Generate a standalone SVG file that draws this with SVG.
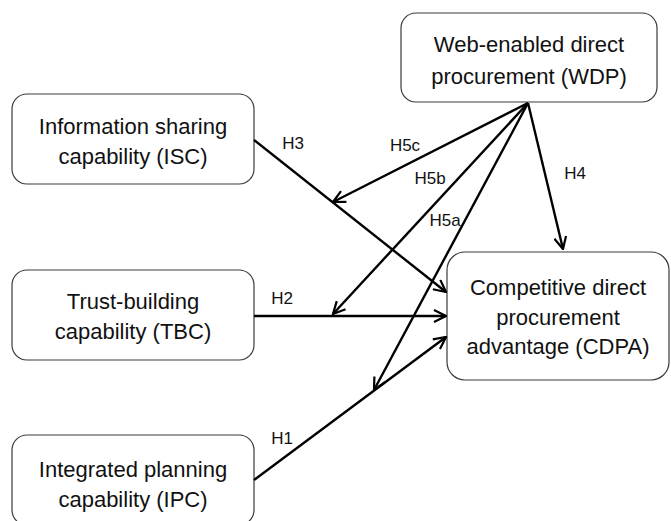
<svg xmlns="http://www.w3.org/2000/svg" width="671" height="521" viewBox="0 0 671 521">
<defs>
<style>
.box{fill:#fff;stroke:#3a3a3a;stroke-width:1.2}
.t{font-family:"Liberation Sans",Arial,sans-serif;font-size:22px;fill:#111;text-anchor:middle}
.lb{font-family:"Liberation Sans",Arial,sans-serif;font-size:17px;fill:#111;text-anchor:middle}
.c{stroke:#000;stroke-width:2.4;fill:none}
</style>
<marker id="ah" viewBox="0 0 14 14" refX="13" refY="7" markerWidth="14" markerHeight="14" markerUnits="userSpaceOnUse" orient="auto">
<path d="M1,1 L13,7 L1,13" fill="none" stroke="#000" stroke-width="2.2"/>
</marker>
</defs>
<rect width="671" height="521" fill="#fff"/>
<g id="wdp">
<rect class="box" x="401" y="13" width="256" height="89" rx="15"/>
<text class="t" x="529" y="52">Web-enabled direct</text>
<text class="t" x="529" y="84">procurement (WDP)</text>
</g>
<g id="isc">
<rect class="box" x="12" y="94" width="242" height="90" rx="15"/>
<text class="t" x="133" y="134">Information sharing</text>
<text class="t" x="133" y="164">capability (ISC)</text>
</g>
<g id="tbc">
<rect class="box" x="12" y="270" width="242" height="90" rx="15"/>
<text class="t" x="133" y="309">Trust-building</text>
<text class="t" x="133" y="339">capability (TBC)</text>
</g>
<g id="ipc">
<rect class="box" x="12" y="435" width="242" height="90" rx="15"/>
<text class="t" x="133" y="477">Integrated planning</text>
<text class="t" x="133" y="507">capability (IPC)</text>
</g>
<g id="cdpa">
<rect class="box" x="447" y="252" width="222" height="128" rx="18"/>
<text class="t" x="558" y="295">Competitive direct</text>
<text class="t" x="558" y="325">procurement</text>
<text class="t" x="558" y="354">advantage (CDPA)</text>
</g>
<g id="connectors">
<line class="c" x1="254" y1="140" x2="446" y2="292" marker-end="url(#ah)"/>
<line class="c" x1="254" y1="316" x2="446" y2="316" marker-end="url(#ah)"/>
<line class="c" x1="254" y1="480" x2="446" y2="337" marker-end="url(#ah)"/>
<line class="c" x1="528" y1="103" x2="563" y2="249" marker-end="url(#ah)"/>
<line class="c" x1="528" y1="103" x2="333" y2="202" marker-end="url(#ah)"/>
<line class="c" x1="528" y1="103" x2="333" y2="314" marker-end="url(#ah)"/>
<line class="c" x1="528" y1="103" x2="374" y2="390" marker-end="url(#ah)"/>
</g>
<g id="labels">
<text class="lb" x="293" y="149">H3</text>
<text class="lb" x="405" y="151">H5c</text>
<text class="lb" x="430" y="184">H5b</text>
<text class="lb" x="445" y="226">H5a</text>
<text class="lb" x="575" y="179">H4</text>
<text class="lb" x="282" y="304">H2</text>
<text class="lb" x="282" y="444">H1</text>
</g>
</svg>
